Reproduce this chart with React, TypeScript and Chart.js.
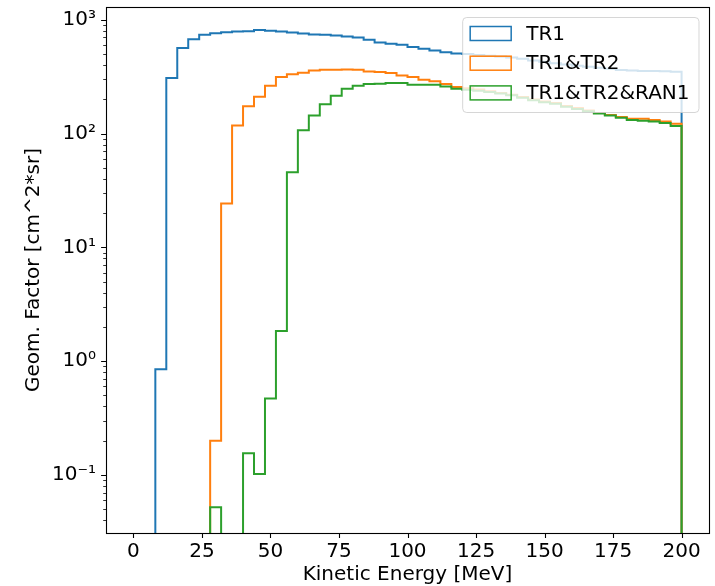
import React, { useEffect, useRef } from "react";
import { Chart, registerables } from "chart.js";

Chart.register(...registerables);

// ---------- data ----------
const binEdges = [
  0, 4, 8, 12, 16, 20, 24, 28, 32, 36, 40, 44, 48, 52, 56, 60, 64, 68, 72, 76,
  80, 84, 88, 92, 96, 100, 104, 108, 112, 116, 120, 124, 128, 132, 136, 140,
  144, 148, 152, 156, 160, 164, 168, 172, 176, 180, 184, 188, 192, 196, 200,
];

const tr1 = [
  0, 0, 0.85, 308, 565, 677, 738, 764, 780, 790, 795, 813, 801, 790, 775, 760,
  745, 738, 728, 714, 700, 668, 632, 616, 604, 576, 557, 538, 520, 507, 500,
  492, 484, 476, 466, 455, 440, 428, 415, 405, 395, 388, 380, 372, 362, 358,
  356, 355, 353, 350,
];

const tr1tr2 = [
  0, 0, 0, 0, 0, 0, 0, 0.2, 24.3, 118, 174, 211, 264, 314, 333, 343, 359, 364,
  364, 366, 364, 352, 348, 341, 325, 314, 298, 288, 273, 257, 250, 244, 236,
  228, 220, 210, 200, 192, 186, 175, 168, 160, 152, 146, 140, 135, 135, 132,
  128, 122,
];

const tr1tr2ran1 = [
  0, 0, 0, 0, 0, 0, 0, 0.052, 0, 0, 0.155, 0.102, 0.471, 1.84, 45.8, 107, 144,
  181, 215, 248, 264, 273, 275, 278, 278, 269, 269, 269, 260, 248, 243, 238,
  232, 225, 217, 207, 197, 189, 183, 172, 165, 157, 150, 144, 138, 132, 130,
  128, 124, 117,
];

const seriesLabels = ["TR1", "TR1&TR2", "TR1&TR2&RAN1"];
const seriesColors = ["#1f77b4", "#ff7f0e", "#2ca02c"];
const seriesValues = [tr1, tr1tr2, tr1tr2ran1];

const xTickValues = [0, 25, 50, 75, 100, 125, 150, 175, 200];
const yTickValues = [0.1, 1, 10, 100, 1000];
const yTickLabels = ["10\u207B\u00B9", "10\u2070", "10\u00B9", "10\u00B2", "10\u00B3"];
const xTitle = "Kinetic Energy [MeV]";
const yTitle = "Geom. Factor [cm^2*sr]";

const FONT = "'DejaVu Sans', sans-serif";
const FLOOR = 1e-6;

function stepPoints(values: number[]) {
  const pts = values.map((v, i) => ({ x: binEdges[i], y: v > 0 ? v : FLOOR }));
  pts.push({ x: binEdges[values.length], y: FLOOR });
  return pts;
}

const decoPlugin = {
  id: "deco",
  afterDraw(chart: any) {
    const ctx = chart.ctx as CanvasRenderingContext2D;
    const { left, right, top, bottom } = chart.chartArea;
    const xs = chart.scales.x;
    const ys = chart.scales.y;
    ctx.save();
    ctx.strokeStyle = "#000";
    // x ticks
    ctx.lineWidth = 1.1;
    ctx.beginPath();
    xTickValues.forEach((v) => {
      const px = Math.round(xs.getPixelForValue(v)) + 0.5;
      ctx.moveTo(px, bottom);
      ctx.lineTo(px, bottom + 4.9);
    });
    ctx.stroke();
    // y major ticks
    ctx.beginPath();
    yTickValues.forEach((v) => {
      const py = Math.round(ys.getPixelForValue(v)) + 0.5;
      ctx.moveTo(left, py);
      ctx.lineTo(left - 4.9, py);
    });
    ctx.stroke();
    // y minor ticks
    ctx.lineWidth = 0.8;
    ctx.beginPath();
    for (let k = -2; k <= 3; k++) {
      for (let m = 2; m <= 9; m++) {
        const v = m * Math.pow(10, k);
        if (v < ys.min || v > ys.max) continue;
        const py = Math.round(ys.getPixelForValue(v)) + 0.5;
        ctx.moveTo(left, py);
        ctx.lineTo(left - 2.8, py);
      }
    }
    ctx.stroke();
    // frame
    ctx.lineWidth = 1.1;
    ctx.strokeRect(Math.round(left) + 0.5, Math.round(top) + 0.5, Math.round(right - left), Math.round(bottom - top));

    // legend
    ctx.font = `20px ${FONT}`;
    const maxW = Math.max(...seriesLabels.map((l) => ctx.measureText(l).width));
    const boxW = 8 + 40 + 16 + maxW + 9;
    const boxH = 95;
    const bx = right - 10.5 - boxW;
    const by = top + 10;
    ctx.beginPath();
    (ctx as any).roundRect(bx + 0.5, by + 0.5, boxW, boxH, 4);
    ctx.fillStyle = "rgba(255,255,255,0.8)";
    ctx.fill();
    ctx.strokeStyle = "rgba(204,204,204,0.8)";
    ctx.lineWidth = 1;
    ctx.stroke();
    seriesLabels.forEach((lab, i) => {
      const cy = by + 16.5 + i * 29.7;
      ctx.strokeStyle = seriesColors[i];
      ctx.lineWidth = 1.5;
      ctx.strokeRect(bx + 8, cy - 7, 41, 14);
      ctx.fillStyle = "#000";
      ctx.textAlign = "left";
      ctx.textBaseline = "middle";
      ctx.fillText(lab, bx + 64, cy + 1);
    });
    ctx.restore();
  },
};

export default function App() {
  const ref = useRef<HTMLCanvasElement | null>(null);
  useEffect(() => {
    if (!ref.current) return;
    const font = { family: FONT, size: 20 };
    const chart = new Chart(ref.current, {
      type: "line",
      data: {
        datasets: seriesValues.map((vals, i) => ({
          label: seriesLabels[i],
          data: stepPoints(vals),
          borderColor: seriesColors[i],
          backgroundColor: seriesColors[i],
          borderWidth: 2,
          pointRadius: 0,
          stepped: "before" as const,
          fill: false,
          order: 3 - i,
        })),
      },
      options: {
        animation: false,
        responsive: false,
        devicePixelRatio: 1,
        events: [],
        layout: { padding: { top: 7, right: 6, left: 0, bottom: 0 } },
        plugins: { legend: { display: false }, tooltip: { enabled: false } },
        scales: {
          x: {
            type: "linear",
            min: -10,
            max: 210,
            grid: { display: false, drawTicks: false },
            border: { display: false },
            afterBuildTicks: (s: any) => {
              s.ticks = xTickValues.map((v) => ({ value: v }));
            },
            afterFit: (s: any) => {
              s.height = 53;
              s.paddingLeft = 0;
              s.paddingRight = 0;
              s.paddingTop = 0;
              s.paddingBottom = 0;
            },
            ticks: { font, color: "#000", padding: 7, maxRotation: 0, autoSkip: false },
            title: { display: true, text: xTitle, font, color: "#000", padding: { top: 0, bottom: -1 } },
          },
          y: {
            type: "logarithmic",
            min: Math.pow(10, -1.51),
            max: Math.pow(10, 3.113),
            grid: { display: false, drawTicks: false },
            border: { display: false },
            afterBuildTicks: (s: any) => {
              s.ticks = yTickValues.map((v) => ({ value: v, major: true }));
            },
            afterFit: (s: any) => {
              s.width = 106;
              s.paddingLeft = 0;
              s.paddingRight = 0;
              s.paddingTop = 0;
              s.paddingBottom = 0;
            },
            ticks: {
              font,
              color: "#000",
              padding: 10,
              autoSkip: false,
              callback: (v: any) => {
                const idx = yTickValues.findIndex((t) => Math.abs(Math.log10(t) - Math.log10(Number(v))) < 1e-6);
                return idx >= 0 ? yTickLabels[idx] : "";
              },
            },
            title: { display: true, text: yTitle, font, color: "#000", padding: { top: 22, bottom: 0 } },
          },
        },
      },
      plugins: [decoPlugin],
    } as any);
    return () => chart.destroy();
  }, []);
  return (
    <div style={{ position: "fixed", left: 0, top: 0, width: 715, height: 586, background: "#fff" }}>
      <canvas ref={ref} width={715} height={586} style={{ display: "block" }} />
    </div>
  );
}
